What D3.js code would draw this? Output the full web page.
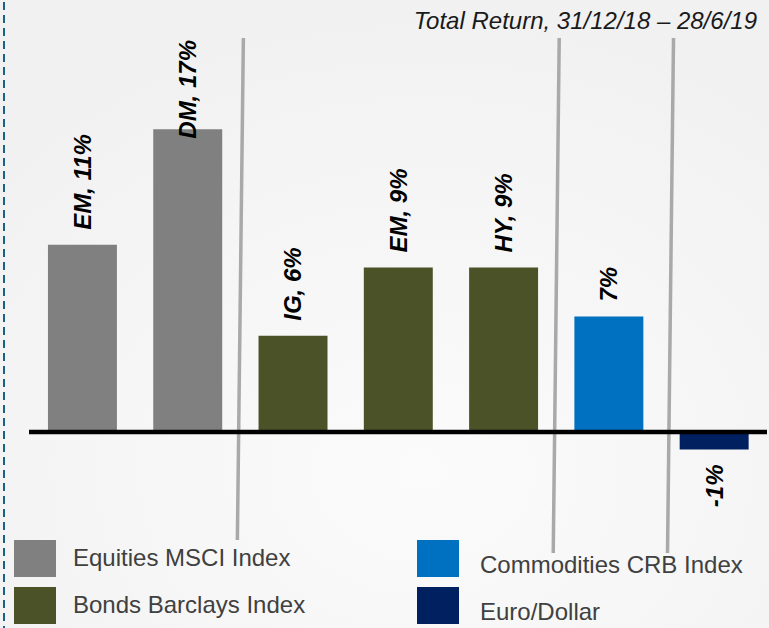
<!DOCTYPE html>
<html>
<head>
<meta charset="utf-8">
<script src="https://cdn.jsdelivr.net/npm/d3@7/dist/d3.min.js"></script>
<style>
  html, body { margin: 0; padding: 0; background: #f5f5f5; }
  svg { display: block; font-family: "Liberation Sans", Arial, sans-serif; }
</style>
</head>
<body>
<div id="chart"></div>
<script>
// datos (rentabilidad total, %)
const categorias = ['EQ_EM', 'EQ_DM', 'BD_IG', 'BD_EM', 'BD_HY', 'CRB', 'EURUSD'];
const etiquetas = ['EM, 11%', 'DM, 17%', 'IG, 6%', 'EM, 9%', 'HY, 9%', '7%', '-1%'];
const valores = [10.7, 17.3, 5.5, 9.4, 9.4, 6.6, -1.0];
const grupos = ['eq', 'eq', 'bd', 'bd', 'bd', 'crb', 'fx'];

const leyendaNombres = ['Equities MSCI Index', 'Bonds Barclays Index', 'Commodities CRB Index', 'Euro/Dollar'];
const leyendaGrupos = ['eq', 'bd', 'crb', 'fx'];

// separadores después de estas categorías
const separadores = [1, 4, 5];

const titulo = 'Total Return, 31/12/18 \u2013 28/6/19';

const width = 769, height = 628;

const color = d3.scaleOrdinal()
  .domain(['eq', 'bd', 'crb', 'fx'])
  .range(['#808080', '#4b5227', '#0070c0', '#002060']);

const svg = d3.select('#chart').append('svg')
  .attr('width', width)
  .attr('height', height);

// fondo con degradado suave
const defs = svg.append('defs');
const grad = defs.append('radialGradient')
  .attr('id', 'fondo')
  .attr('cx', '55%').attr('cy', '75%').attr('r', '75%');
grad.append('stop').attr('offset', '0%').attr('stop-color', '#fbfbfb');
grad.append('stop').attr('offset', '100%').attr('stop-color', '#f1f1f1');

svg.append('rect')
  .attr('width', width).attr('height', height)
  .attr('fill', 'url(#fondo)');

// borde izquierdo punteado
svg.append('line')
  .attr('x1', 4).attr('x2', 4)
  .attr('y1', 2).attr('y2', height)
  .attr('stroke', '#1a6283')
  .attr('stroke-width', 2)
  .attr('stroke-dasharray', '8,5');

const x = d3.scaleBand()
  .domain(categorias)
  .range([29.8, 766.8])
  .paddingInner(0.345)
  .paddingOuter(0.1725);

const y = d3.scaleLinear()
  .domain([-2, 20])
  .range([467, 82]);

// líneas separadoras grises (ligeramente inclinadas)
const ajusteSep = [0, 0, 9];
svg.append('g')
  .selectAll('line')
  .data(separadores)
  .enter().append('line')
  .attr('x1', (d, i) => x(categorias[d + 1]) - x.step() * x.paddingInner() / 2 + 3 + ajusteSep[i])
  .attr('y1', 38)
  .attr('x2', (d, i) => x(categorias[d + 1]) - x.step() * x.paddingInner() / 2 - 3 + ajusteSep[i])
  .attr('y2', (d, i) => i === 0 ? 540 : 553)
  .attr('stroke', '#a9a9a9')
  .attr('stroke-width', 3.5);

// barras
svg.append('g')
  .selectAll('rect')
  .data(valores)
  .enter().append('rect')
  .attr('x', (d, i) => x(categorias[i]))
  .attr('width', x.bandwidth())
  .attr('y', d => d >= 0 ? y(d) : y(0))
  .attr('height', d => Math.abs(y(d) - y(0)))
  .attr('fill', (d, i) => color(grupos[i]));

// eje cero
svg.append('line')
  .attr('x1', 29).attr('x2', 767)
  .attr('y1', y(0)).attr('y2', y(0))
  .attr('stroke', '#000')
  .attr('stroke-width', 4.5);

// etiquetas verticales
const etiq = svg.append('g')
  .selectAll('text')
  .data(valores)
  .enter().append('text')
  .attr('font-size', 24)
  .attr('font-weight', 'bold')
  .attr('font-style', 'italic')
  .attr('fill', '#000')
  .attr('dy', '0.35em')
  .attr('text-anchor', d => d >= 0 ? 'start' : 'end')
  .text((d, i) => etiquetas[i]);

etiq.each(function(d, i) {
  const largo = this.getComputedTextLength();
  const cx = x(categorias[i]) + x.bandwidth() / 2;
  let cy;
  if (d >= 0) {
    cy = y(d) - 15;
    if (cy - largo < 40) cy = 40 + largo;
  } else {
    cy = y(d) + 15;
  }
  d3.select(this).attr('transform', `translate(${cx},${cy}) rotate(-90)`);
});

// título
svg.append('text')
  .attr('x', 757)
  .attr('y', 29)
  .attr('text-anchor', 'end')
  .attr('font-size', 24)
  .attr('font-style', 'italic')
  .attr('fill', '#1a1a1a')
  .text(titulo);

// leyenda
const posLeyenda = [
  { x: 14, y: 540, tx: 73, ty: 566 },
  { x: 14, y: 587, tx: 73, ty: 613 },
  { x: 417, y: 540, tx: 480, ty: 573 },
  { x: 417, y: 587, tx: 480, ty: 620 }
];

const ley = svg.append('g')
  .selectAll('g')
  .data(leyendaNombres)
  .enter().append('g');

ley.append('rect')
  .attr('x', (d, i) => posLeyenda[i].x)
  .attr('y', (d, i) => posLeyenda[i].y)
  .attr('width', 42)
  .attr('height', 37)
  .attr('fill', (d, i) => color(leyendaGrupos[i]));

ley.append('text')
  .attr('x', (d, i) => posLeyenda[i].tx)
  .attr('y', (d, i) => posLeyenda[i].ty)
  .attr('font-size', 24)
  .attr('fill', '#404040')
  .text(d => d);
</script>
</body>
</html>
